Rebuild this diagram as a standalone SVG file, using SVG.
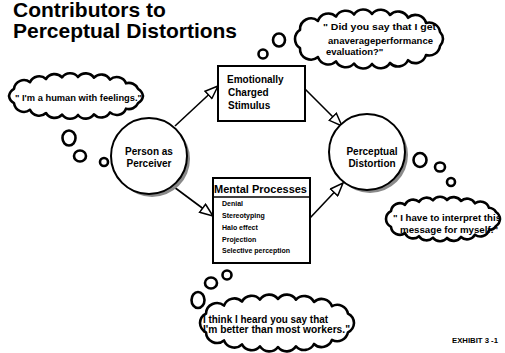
<svg xmlns="http://www.w3.org/2000/svg" width="505" height="353" viewBox="0 0 505 353">
<defs>
<style>
text{font-family:"Liberation Sans",Arial,sans-serif;font-weight:bold;fill:#000}
.title{font-size:21px}
.node{font-size:10px}
.item{font-size:7px}
.say{font-size:9.5px}
.cloud{fill:#fff;stroke:#000;stroke-width:2.6;stroke-linejoin:round}
.bub{fill:#fff;stroke:#000;stroke-width:2.6}
.box{fill:#fff;stroke:#000;stroke-width:2}
.circ{fill:#fff;stroke:#000;stroke-width:2}
.shadow{fill:#8a8a8a}
.conn{stroke:#000;stroke-width:1.6;fill:none;marker-end:url(#hollow)}
</style>
<marker id="hollow" viewBox="0 0 15 12" refX="14" refY="6" markerWidth="15" markerHeight="12" markerUnits="userSpaceOnUse" orient="auto">
<path d="M1,1 L14,6 L1,11 Z" fill="#fff" stroke="#000" stroke-width="1.5"/>
</marker>
</defs>
<rect width="505" height="353" fill="#fff"/>

<g id="title">
<text class="title" x="13" y="17">Contributors to</text>
<text class="title" x="13" y="38">Perceptual Distortions</text>
</g>

<g id="connectors">
<line class="conn" x1="175" y1="126" x2="218" y2="86"/>
<line class="conn" x1="305" y1="89" x2="342" y2="126"/>
<line class="conn" x1="174" y1="187" x2="213" y2="216"/>
<line class="conn" x1="310" y1="218" x2="343" y2="183"/>
</g>

<g id="person">
<circle class="shadow" cx="152" cy="159" r="38"/>
<circle class="circ" cx="149" cy="156" r="38"/>
<text class="node" x="149" y="155" text-anchor="middle">Person as</text>
<text class="node" x="149" y="167" text-anchor="middle">Perceiver</text>
</g>

<g id="distortion">
<circle class="shadow" cx="370" cy="155" r="38"/>
<circle class="circ" cx="367" cy="152" r="38"/>
<text class="node" x="372" y="155" text-anchor="middle">Perceptual</text>
<text class="node" x="372" y="167" text-anchor="middle">Distortion</text>
</g>

<g id="stimulus">
<rect class="box" x="218" y="66" width="87" height="55"/>
<text class="node" x="227" y="83">Emotionally</text>
<text class="node" x="228" y="96">Charged</text>
<text class="node" x="228" y="109">Stimulus</text>
</g>

<g id="mental">
<rect class="box" x="213" y="178" width="97" height="85"/>
<text x="214" y="193" font-size="10.5" textLength="93" lengthAdjust="spacingAndGlyphs">Mental Processes</text>
<line x1="214" y1="197" x2="309" y2="197" stroke="#000" stroke-width="1.5"/>
<text class="item" x="222" y="206">Denial</text>
<text class="item" x="222" y="218">Stereotyping</text>
<text class="item" x="222" y="230">Halo effect</text>
<text class="item" x="222" y="242">Projection</text>
<text class="item" x="222" y="253">Selective perception</text>
</g>

<g id="thought-human">
<circle class="bub" cx="104" cy="162" r="4"/>
<ellipse class="bub" cx="80" cy="156" rx="6" ry="5.5"/>
<ellipse class="bub" cx="69" cy="138" rx="6.5" ry="7.5"/>
<path class="cloud" d="M9,96 A10,10 0 0 1 14,88.8 A10,10 0 0 1 30,82.2 A10,10 0 0 1 46,79 A10,10 0 0 1 62,77.4 A10,10 0 0 1 78,77 A10,10 0 0 1 94,77.7 A10,10 0 0 1 110,79.6 A10,10 0 0 1 126,83.3 A10,10 0 0 1 138,88.8 A10,10 0 0 1 143,96 A10,10 0 0 1 138,103.2 A10,10 0 0 1 126,108.7 A10,10 0 0 1 110,112.4 A10,10 0 0 1 94,114.3 A10,10 0 0 1 78,115 A10,10 0 0 1 62,114.6 A10,10 0 0 1 46,113 A10,10 0 0 1 30,109.8 A10,10 0 0 1 14,103.2 A10,10 0 0 1 9,96 Z"/>
<text class="say" x="15" y="101" textLength="127" lengthAdjust="spacingAndGlyphs">" I'm a human with feelings."</text>
</g>

<g id="thought-evaluation">
<circle class="bub" cx="263" cy="54" r="4.5"/>
<ellipse class="bub" cx="279" cy="40" rx="6" ry="6.5"/>
<path class="cloud" d="M295,39 A11,11 0 0 1 300,29.9 A11,11 0 0 1 318,20.9 A11,11 0 0 1 336,16.6 A11,11 0 0 1 354,14.5 A11,11 0 0 1 372,14 A11,11 0 0 1 390,15 A11,11 0 0 1 408,17.8 A11,11 0 0 1 426,23 A11,11 0 0 1 440,31.9 A11,11 0 0 1 443,39 A11,11 0 0 1 440,46.1 A11,11 0 0 1 426,55 A11,11 0 0 1 408,60.2 A11,11 0 0 1 390,63 A11,11 0 0 1 372,64 A11,11 0 0 1 354,63.5 A11,11 0 0 1 336,61.4 A11,11 0 0 1 318,57.1 A11,11 0 0 1 300,48.1 A11,11 0 0 1 295,39 Z"/>
<text class="say" x="323" y="30" textLength="113" lengthAdjust="spacingAndGlyphs">" Did you say that I get</text>
<text class="say" x="328" y="44" textLength="105" lengthAdjust="spacingAndGlyphs">anaverageperformance</text>
<text class="say" x="326" y="55" font-size="9">evaluation?"</text>
</g>

<g id="thought-interpret">
<ellipse class="bub" cx="420" cy="160" rx="6.5" ry="7"/>
<ellipse class="bub" cx="440" cy="167" rx="5" ry="4.5"/>
<circle class="bub" cx="451" cy="182" r="4"/>
<path class="cloud" d="M386,219 A9,9 0 0 1 391,211.2 A9,9 0 0 1 405,204.8 A9,9 0 0 1 419,201.8 A9,9 0 0 1 433,200.3 A9,9 0 0 1 447,200 A9,9 0 0 1 461,201 A9,9 0 0 1 475,203.3 A9,9 0 0 1 489,207.8 A9,9 0 0 1 496,212 A9,9 0 0 1 500,219 A9,9 0 0 1 496,226 A9,9 0 0 1 489,230.2 A9,9 0 0 1 475,234.7 A9,9 0 0 1 461,237 A9,9 0 0 1 447,238 A9,9 0 0 1 433,237.7 A9,9 0 0 1 419,236.2 A9,9 0 0 1 405,233.2 A9,9 0 0 1 391,226.8 A9,9 0 0 1 386,219 Z"/>
<text class="say" x="393" y="221" textLength="108" lengthAdjust="spacingAndGlyphs">" I have to interpret this</text>
<text class="say" x="400" y="233" textLength="98" lengthAdjust="spacingAndGlyphs">message for myself."</text>
</g>

<g id="thought-better">
<ellipse class="bub" cx="198" cy="300" rx="6.5" ry="8"/>
<ellipse class="bub" cx="211" cy="283" rx="6" ry="5.5"/>
<circle class="bub" cx="227" cy="275" r="4.5"/>
<path class="cloud" d="M200,323 A11,11 0 0 1 206,313.7 A11,11 0 0 1 224,305.6 A11,11 0 0 1 242,301.6 A11,11 0 0 1 260,299.6 A11,11 0 0 1 278,299 A11,11 0 0 1 296,299.7 A11,11 0 0 1 314,302 A11,11 0 0 1 332,306.2 A11,11 0 0 1 348,313.7 A11,11 0 0 1 354,323 A11,11 0 0 1 348,332.3 A11,11 0 0 1 332,339.8 A11,11 0 0 1 314,344 A11,11 0 0 1 296,346.3 A11,11 0 0 1 278,347 A11,11 0 0 1 260,346.4 A11,11 0 0 1 242,344.4 A11,11 0 0 1 224,340.4 A11,11 0 0 1 206,332.3 A11,11 0 0 1 200,323 Z"/>
<text x="203" y="323" font-size="10" textLength="125" lengthAdjust="spacingAndGlyphs">I think I heard you say that</text>
<text x="203" y="333" font-size="10" textLength="147" lengthAdjust="spacingAndGlyphs">I'm better than most workers."</text>
</g>

<g id="exhibit">
<text x="452" y="343" font-size="7" textLength="46" lengthAdjust="spacingAndGlyphs">EXHIBIT 3 -1</text>
</g>
</svg>
